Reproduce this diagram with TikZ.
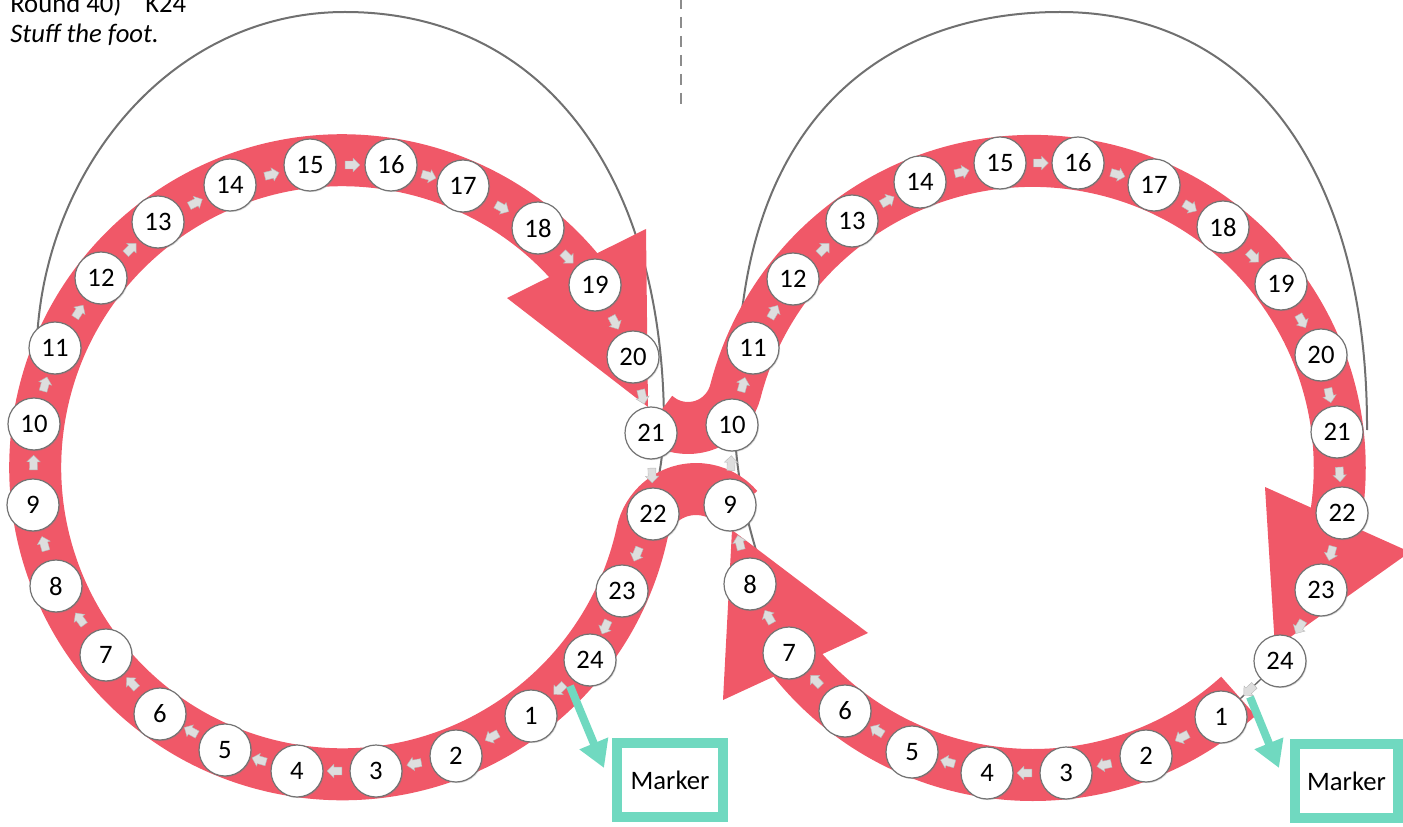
\documentclass[tikz,border=0pt]{standalone}
\usepackage{fontspec}
\setmainfont{Carlito}
\usetikzlibrary{shapes.arrows,arrows.meta,calc,shadows}
\definecolor{bandred}{RGB}{240,88,104}
\definecolor{mint}{RGB}{112,217,192}
\definecolor{loopgray}{RGB}{112,112,112}
\definecolor{dashgray}{RGB}{140,140,140}
\tikzset{
  bandline/.style={draw=bandred,line width=39pt,line cap=butt,line join=round},
  bandhead/.style={fill=bandred},
  loopline/.style={draw=loopgray,line width=1.5pt},
  linkline/.style={draw=black!60,line width=1pt},
  num/.style={circle,fill=white,draw=black!55,line width=0.9pt,minimum size=39pt,inner sep=0pt,
    font=\fontsize{20}{20}\selectfont,
    drop shadow={opacity=0.3,shadow xshift=0.8pt,shadow yshift=-0.8pt}},
  smallarr/.style={single arrow,fill=black!13,draw=black!28,line width=0.3pt,minimum height=11pt,
    minimum width=10pt,single arrow head extend=1.2pt,single arrow head indent=0pt,
    inner sep=1.6pt,sloped,allow upside down},
  tealarrow/.style={draw=mint,line width=6pt,-{Triangle[width=22pt,length=20pt]}},
  markerbox/.style={draw=mint,line width=7.5pt,minimum width=79.5pt,minimum height=55.5pt,
    inner sep=0pt,font=\fontsize{20}{24}\selectfont},
  dashline/.style={draw=dashgray,line width=1.9pt,dash pattern=on 8.25pt off 6pt},
  toptext/.style={anchor=base west,inner sep=0pt,font=\fontsize{20}{24}\selectfont}
}
\begin{document}
\begin{tikzpicture}[x=0.75pt,y=-0.75pt]
\useasboundingbox (0,0) rectangle (1403,827);

% dashed divider
\coordinate (dtop) at (681,-2);
\coordinate (dbot) at (681,104);
\draw[dashline] (dtop) -- (dbot);

% thin gray loops
\draw[loopline] (40,360) -- (37,340) .. controls (45,170) and (170,12) .. (345,12)
  .. controls (540,12) and (662,170) .. (664,420)
  .. controls (664,450) and (660,470) .. (656,492);
\draw[loopline] (765,578) .. controls (745,520) and (732,460) .. (735,400)
  .. controls (737,350) and (740,320) .. (743,303)
  .. controls (770,100) and (900,12) .. (1060,12)
  .. controls (1250,12) and (1368,170) .. (1367,430);

% red bands
\draw[bandline] (696,544) ++(-40:55) arc[start angle=-40,end angle=-167.76,radius=55]
  arc[start angle=12.24,end angle=321,radius=307];
\fill[bandhead] (646,229) -- (507,298) -- (648,407) -- cycle;
\draw[bandline] (1033,468) ++(48:307) arc[start angle=48,end angle=142,radius=307];
\fill[bandhead] (723,700) -- (868,633) -- (732,530) -- cycle;
\draw[bandline] (688,379) ++(130:49) arc[start angle=130,end angle=14.47,radius=49]
  arc[start angle=194.47,end angle=372,radius=307];
\fill[bandhead] (1265,487) -- (1410,552) -- (1275,648) -- cycle;

% numbered circles, left ring
\foreach \n/\x/\y in {1/531/716,2/456/756,3/376/771,4/297/771,5/225/750,6/160/714,7/106/655,
  8/56/586,9/33/505,10/34/424,11/55/348,12/101/278,13/158/222,14/230/185,15/310/165,
  16/391/165,17/463/186,18/538/228,19/595/285,20/633/357,21/651/433,22/653/514,23/622/591,24/590/660}
  \node[num] (l\n) at (\x,\y) {\n};
% numbered circles, right ring
\foreach \n/\x/\y in {1/1221/717,2/1146/756,3/1066/773,4/987/773,5/912/752,6/845/711,7/789/653,
  8/750/584,9/730/505,10/732/425,11/753/348,12/793/279,13/852/221,14/920/182,15/1000/163,
  16/1078/163,17/1154/185,18/1223/227,19/1281/284,20/1321/355,21/1337/432,22/1342/513,23/1321/590,24/1280/661}
  \node[num] (r\n) at (\x,\y) {\n};

% short link on the right ring
\draw[linkline] (r24) -- (r1);

% small arrows between circles
\foreach \a/\b in {1/2,2/3,3/4,4/5,5/6,6/7,7/8,8/9,9/10,10/11,11/12,12/13,13/14,14/15,15/16,
  16/17,17/18,18/19,19/20,20/21,21/22,22/23,23/24,24/1}{
  \path (l\a) -- (l\b) node[midway,smallarr] {};
  \path (r\a) -- (r\b) node[midway,smallarr] {};
}

% marker boxes and teal arrows
\node[markerbox] (mL) at (670,780) {Marker};
\node[markerbox,minimum width=77.25pt] (mR) at (1346.5,781) {Marker};
\coordinate (tsL) at (570,686);
\coordinate (teL) at (604,768);
\coordinate (tsR) at (1250,697);
\coordinate (teR) at (1279,768);
\draw[tealarrow] (tsL) -- (teL);
\draw[tealarrow] (tsR) -- (teR);

% heading text
\node[toptext] (t1) at (10,13) {Round 40)};
\node[toptext] (t2) at (145,13) {K24};
\node[toptext] (t3) at (10,43) {\itshape Stuff the foot.};
\end{tikzpicture}
\end{document}
